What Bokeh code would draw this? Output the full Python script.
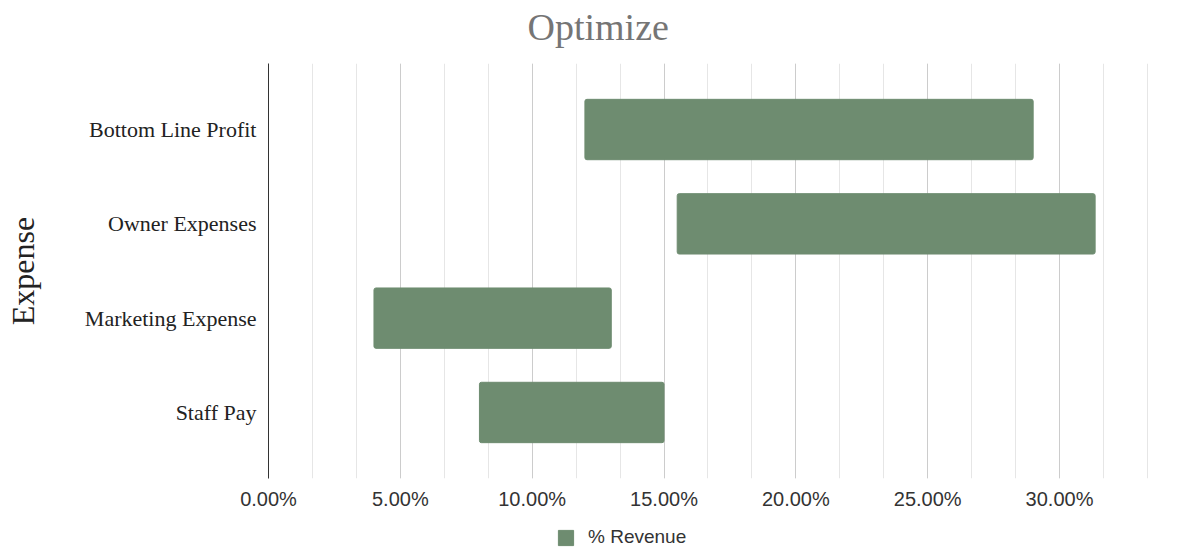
from bokeh.plotting import figure
from bokeh.layouts import column
from bokeh.models import (Range1d, FixedTicker, SingleIntervalTicker, NumeralTickFormatter,
                          Legend, LegendItem, ColumnDataSource, Title)
from bokeh.embed import file_html
from bokeh.resources import INLINE

categories = ["Staff Pay", "Marketing Expense", "Owner Expenses", "Bottom Line Profit"]
starts = [0.08, 0.04, 0.155, 0.12]
ends = [0.15, 0.13, 0.3135, 0.29]
series_name = "% Revenue"
chart_title = "Optimize"
y_title = "Expense"

BAR = "#6e8c70"
SERIF = "Liberation Serif"
SANS = "Liberation Sans"
W = 1190
FRAME_LEFT = 268

# ---- title strip ----
pt = figure(width=W, height=63, output_backend="svg", toolbar_location=None,
            x_range=Range1d(0, 1), y_range=Range1d(0, 1),
            x_axis_type=None, y_axis_type=None, min_border=0)
pt.outline_line_color = None
pt.title = Title(text=chart_title, text_font=SERIF, text_font_size="38px",
                 text_color="#757575", text_font_style="normal", align="left",
                 offset=527 - FRAME_LEFT, standoff=6)

# ---- main chart ----
src = ColumnDataSource(dict(y=list(range(len(categories))), left=starts, right=ends))

p = figure(width=W, height=452, output_backend="svg", toolbar_location=None,
           x_range=Range1d(0, 0.3345), y_range=Range1d(-0.7, len(categories) - 0.3),
           min_border_left=FRAME_LEFT, min_border_right=40, min_border_top=0,
           min_border_bottom=37)
p.outline_line_color = None

r = p.hbar(y="y", left="left", right="right", height=0.64, source=src,
           fill_color=BAR, line_color=BAR, border_radius=2)

p.xaxis.ticker = SingleIntervalTicker(interval=0.05, num_minor_ticks=3)
p.xaxis.formatter = NumeralTickFormatter(format="0.00%")
p.xaxis.axis_line_color = None
p.xaxis.major_tick_line_color = None
p.xaxis.minor_tick_line_color = None
p.xaxis.major_label_text_font = SANS
p.xaxis.major_label_text_font_size = "20px"
p.xaxis.major_label_text_color = "#333333"
p.xaxis.major_label_standoff = 3

p.xgrid.ticker = p.xaxis.ticker
p.xgrid.grid_line_color = "#cccccc"
p.xgrid.minor_grid_line_color = "#e6e6e6"
p.ygrid.grid_line_color = None

p.yaxis.ticker = FixedTicker(ticks=list(range(len(categories))))
p.yaxis.major_label_overrides = {i: c for i, c in enumerate(categories)}
p.yaxis.axis_line_color = "#333333"
p.yaxis.axis_line_width = 1
p.yaxis.major_tick_line_color = None
p.yaxis.minor_tick_line_color = None
p.yaxis.major_label_text_font = SERIF
p.yaxis.major_label_text_font_size = "22px"
p.yaxis.major_label_text_color = "#222222"
p.yaxis.major_label_standoff = 6
p.yaxis.axis_label = y_title
p.yaxis.axis_label_text_font = SERIF
p.yaxis.axis_label_text_font_size = "32px"
p.yaxis.axis_label_text_font_style = "normal"
p.yaxis.axis_label_text_color = "#222222"
p.yaxis.axis_label_standoff = 41

# ---- legend strip (renderer kept out of view; only its legend swatch shows) ----
pl = figure(width=W, height=33, output_backend="svg", toolbar_location=None,
            x_range=Range1d(0, 1), y_range=Range1d(100, 101),
            x_axis_type=None, y_axis_type=None, min_border=0)
pl.outline_line_color = None
lr = pl.hbar(y="y", left="left", right="right", height=0.64, source=src,
             fill_color=BAR, line_color=BAR)
legend = Legend(items=[LegendItem(label=series_name, renderers=[lr])],
                orientation="horizontal", location=(556 - FRAME_LEFT, 0),
                label_text_font=SANS, label_text_font_size="19px",
                label_text_color="#333333", glyph_width=19, glyph_height=19,
                label_standoff=13,
                border_line_color=None, background_fill_alpha=0, padding=0, margin=0)
pl.add_layout(legend, "center")

layout = column(pt, p, pl, spacing=0)
open("out.html", "w").write(file_html(layout, INLINE))
